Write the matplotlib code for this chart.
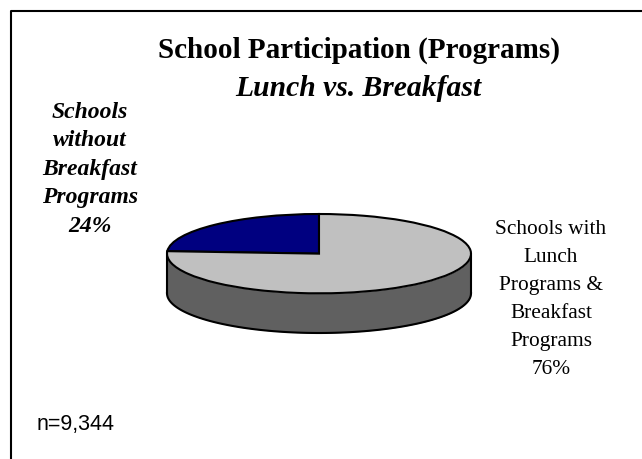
import matplotlib
matplotlib.use("Agg")
from matplotlib import pyplot as plt
import numpy as np

W, H = 642, 459

shares = [24, 76]
slice_colors = ["#000080", "#c0c0c0"]
title = "School Participation (Programs)"
subtitle = "Lunch vs. Breakfast"
left_label = ["Schools", "without", "Breakfast", "Programs", "24%"]
right_label = ["Schools with", "Lunch", "Programs &", "Breakfast", "Programs", "76%"]
note = "n=9,344"

plt.rcParams["font.family"] = "Liberation Serif"

fig = plt.figure(figsize=(W / 100, H / 100), dpi=100)

# whole figure in pixel coords for frame and text
bg = fig.add_axes([0, 0, 1, 1])
bg.set_xlim(0, W)
bg.set_ylim(H, 0)
bg.axis("off")
bg.plot([11, 11, W], [H, 10.5, 10.5], color="black", lw=1.5, solid_capstyle="butt")

bg.text(359.5, 58, title, ha="center", va="baseline", fontsize=21, fontweight="bold")
bg.text(358, 96, subtitle, ha="center", va="baseline", fontsize=21.3, fontweight="bold", style="italic")

for i, line in enumerate(left_label):
    bg.text(90, 118 + i * 28.5, line, ha="center", va="baseline", fontsize=17,
            fontweight="bold", style="italic")
for i, line in enumerate(right_label):
    bg.text(551, 234 + i * 28, line, ha="center", va="baseline", fontsize=15.4)
bg.text(37, 430, note, ha="left", va="baseline", fontsize=15.5, family="Liberation Sans")

# pie axes: y unit = ellipse half height, rim depth is one unit
left, right, top, bottom = 167, 471, 214, 333
ax = fig.add_axes([left / W, 1 - bottom / H, (right - left) / W, (bottom - top) / H])
ax.pie(shares, colors=slice_colors, startangle=90, radius=1,
       wedgeprops={"edgecolor": "black", "linewidth": 1.5, "clip_on": False, "zorder": 3})
ax.set_aspect("auto")
ax.set_xlim(-1, 1)
ax.set_ylim(-2, 1)

t = np.linspace(np.pi, 2 * np.pi, 100)
ax.fill_between(np.cos(t), np.sin(t), np.sin(t) - 1, color="#606060", lw=0, zorder=1, clip_on=False)
ax.plot(np.cos(t), np.sin(t) - 1, color="black", lw=1.5, zorder=2, clip_on=False)
ax.plot([-1, -1], [0, -1], color="black", lw=1.5, zorder=2, clip_on=False)
ax.plot([1, 1], [0, -1], color="black", lw=1.5, zorder=2, clip_on=False)

fig.savefig("out.png", dpi=100)
